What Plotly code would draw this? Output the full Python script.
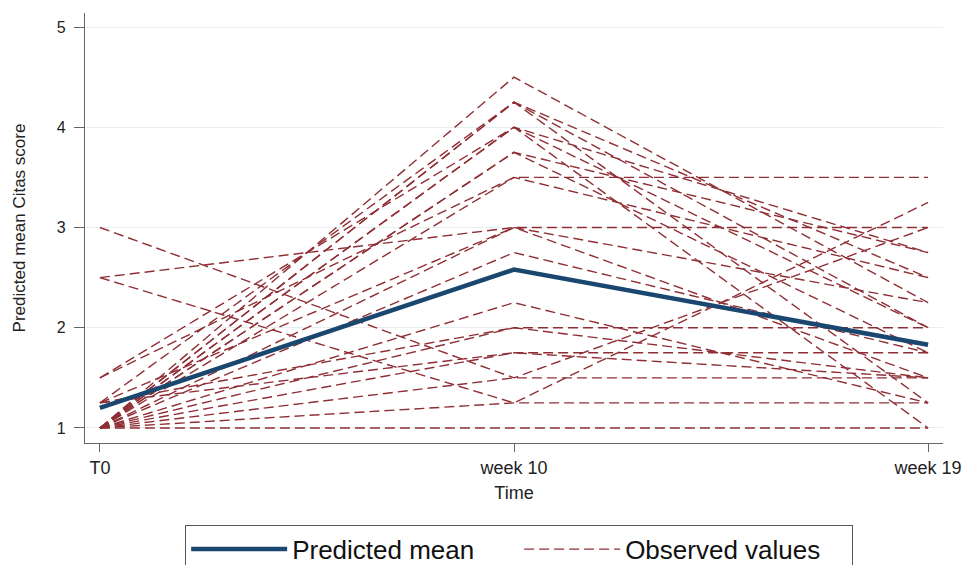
import plotly.graph_objects as go

time_labels = ["T0", "week 10", "week 19"]
predicted_mean = [1.2, 2.58, 1.83]

# Observed values per subject (T0, week 10, week 19)
t0_obs  = [1.0, 1.0, 1.0, 1.25, 1.0, 1.5, 1.0, 1.5, 1.0, 2.5, 1.0, 1.25, 1.0, 1.0, 1.0, 1.0, 1.25, 3.0, 2.5, 1.0, 1.0, 1.0, 1.25, 1.0, 1.0]
w10_obs = [4.5, 4.25, 4.25, 4.25, 4.0, 4.0, 3.75, 3.5, 3.5, 3.0, 3.0, 3.0, 2.75, 2.25, 2.0, 1.75, 1.75, 1.5, 1.25, 1.5, 1.25, 1.0, 2.0, 3.75, 4.0]
w19_obs = [2.25, 2.0, 1.25, 2.5, 1.0, 2.75, 1.75, 3.5, 2.5, 3.0, 1.5, 2.25, 1.75, 1.25, 2.0, 1.75, 1.5, 3.0, 3.25, 1.5, 1.25, 1.0, 1.5, 2.75, 2.0]

x_pos = [0, 1, 2]
obs_color = "#8f2f35"
mean_color = "#1a476f"
font_family = "Liberation Sans, Arial, sans-serif"

fig = go.Figure()

for i, (a, b, c) in enumerate(zip(t0_obs, w10_obs, w19_obs)):
    fig.add_trace(go.Scatter(
        x=x_pos, y=[a, b, c], mode="lines",
        line=dict(color=obs_color, width=1.4, dash="10px,5px"),
        name="Observed values", legendgroup="obs",
        showlegend=(i == 0), legendrank=2, hoverinfo="skip",
    ))

fig.add_trace(go.Scatter(
    x=x_pos, y=predicted_mean, mode="lines",
    line=dict(color=mean_color, width=4.5),
    name="Predicted mean", legendrank=1,
))

fig.update_layout(
    width=968, height=565,
    margin=dict(l=85, r=25, t=13, b=122, autoexpand=False),
    paper_bgcolor="white", plot_bgcolor="white",
    font=dict(family=font_family, color="#222222"),
    showlegend=True,
    legend=dict(
        orientation="h", x=0.506, xanchor="center", y=-0.19, yanchor="top",
        bordercolor="#555555", borderwidth=1, bgcolor="white",
        font=dict(size=26, family=font_family, color="#111111"),
        itemwidth=96, entrywidth=222, entrywidthmode="pixels",
        traceorder="normal", tracegroupgap=0,
    ),
    xaxis=dict(
        range=[-0.036, 2.036], tickvals=x_pos, ticktext=time_labels,
        showline=True, linecolor="#666666", linewidth=1.2,
        ticks="outside", ticklen=8, tickcolor="#666666",
        showgrid=False, zeroline=False, automargin=False,
        tickfont=dict(size=18),
        title=dict(text="Time", font=dict(size=18), standoff=9),
    ),
    yaxis=dict(
        range=[0.85, 5.14], tickvals=[1, 2, 3, 4, 5],
        showline=True, linecolor="#666666", linewidth=1.2,
        ticks="outside", ticklen=10, tickcolor="#666666",
        showgrid=True, gridcolor="#e6eef1", gridwidth=1, zeroline=False,
        automargin=False, ticklabelstandoff=5,
        tickfont=dict(size=16),
        title=dict(text="Predicted mean Citas score", font=dict(size=17), standoff=26),
    ),
)

fig.write_html(
    "out.html",
    config={"displayModeBar": False},
    post_script="document.body.style.margin='0px';document.body.style.overflow='hidden';",
)
